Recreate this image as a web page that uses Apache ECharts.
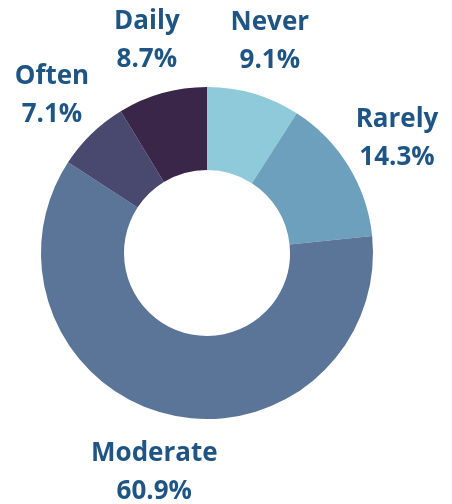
<!DOCTYPE html>
<html><head><meta charset="utf-8">
<script src="https://cdn.jsdelivr.net/npm/echarts@6/dist/echarts.min.js"></script>
<style>html,body{margin:0;padding:0;background:#fff}#c{width:452px;height:504px}</style>
</head><body><div id="c"></div>
<script>
const categories = ['Never', 'Rarely', 'Moderate', 'Often', 'Daily'];
const values = [9.1, 14.3, 60.9, 7.1, 8.7];
const colors = ['#8ecad9', '#6da0bc', '#5a7597', '#49496f', '#3a2649'];

const chart = echarts.init(document.getElementById('c'));
const data = categories.map((n, i) => ({ name: n, value: values[i], itemStyle: { color: colors[i] } }));
const labelData = categories.map((n, i) => ({ name: n, value: values[i] }));
chart.setOption({
  animation: false,
  series: [
    {
      type: 'pie', center: [207, 253], radius: [83, 166], startAngle: 90, clockwise: true,
      silent: true, label: { show: false }, labelLine: { show: false }, data: data
    },
    {
      type: 'pie', center: [207, 255.5], radius: [200, 240], startAngle: 90, clockwise: true,
      silent: true, itemStyle: { color: 'rgba(0,0,0,0)' },
      label: {
        show: true, position: 'inside', formatter: '{b}\n{c}%',
        fontFamily: 'Open Sans', fontWeight: 'bold', fontSize: 26, lineHeight: 38, color: '#1f5585'
      },
      labelLine: { show: false }, data: labelData
    }
  ]
});
</script></body></html>
